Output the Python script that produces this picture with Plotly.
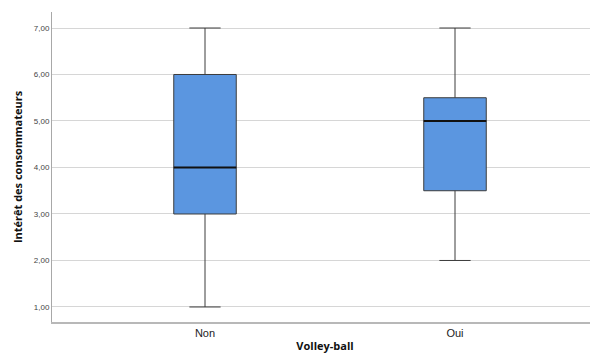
import plotly.graph_objects as go

categories = ["Non", "Oui"]
q1 = [3.0, 3.5]
median = [4.0, 5.0]
q3 = [6.0, 5.5]
lower = [1.0, 2.0]
upper = [7.0, 7.0]
y_ticks = [1, 2, 3, 4, 5, 6, 7]

box_w = 0.25
pos = list(range(len(categories)))

fig = go.Figure()
fig.add_trace(go.Box(
    x=pos, q1=q1, median=median, q3=q3,
    lowerfence=lower, upperfence=upper,
    fillcolor="#5B96E0", line=dict(color="#3c3c3c", width=1),
    width=box_w, whiskerwidth=0.5, boxpoints=False, showlegend=False,
    hoverinfo="skip",
))

# emphasised median lines
mx, my = [], []
for p, m in zip(pos, median):
    mx += [p - box_w / 2, p + box_w / 2, None]
    my += [m, m, None]
fig.add_trace(go.Scatter(x=mx, y=my, mode="lines", line=dict(color="#111", width=2),
                         showlegend=False, hoverinfo="skip"))

fig.update_layout(
    width=590, height=352,
    margin=dict(l=44, r=0, t=4, b=38, autoexpand=False),
    plot_bgcolor="white", paper_bgcolor="white",
    separators=",.",
    font=dict(family="Liberation Sans, Arial, sans-serif", color="#222"),
    xaxis=dict(
        range=[-0.612, 1.572], automargin=False,
        tickvals=pos, ticktext=categories,
        showgrid=False, showline=True, linecolor="#b8b8b8", linewidth=2,
        ticks="", tickfont=dict(size=11, color="#222"),
        title=dict(text="<b>Volley-ball</b>", font=dict(size=11, color="#111",
                   family="Open Sans, DejaVu Sans, sans-serif"), standoff=4),
        zeroline=False,
    ),
    yaxis=dict(
        range=[0.677, 7.344], tickvals=y_ticks, tickformat=".2f", automargin=False,
        showgrid=True, gridcolor="#d6d6d6", gridwidth=1,
        showline=True, linecolor="#a8a8a8", linewidth=1,
        ticks="", tickfont=dict(size=8, color="#444"),
        title=dict(text="<b>Intérêt des consommateurs</b>", font=dict(size=11, color="#111",
                   family="Open Sans, DejaVu Sans, sans-serif"), standoff=8),
        zeroline=False,
    ),
)

fig.write_html("out.html")
